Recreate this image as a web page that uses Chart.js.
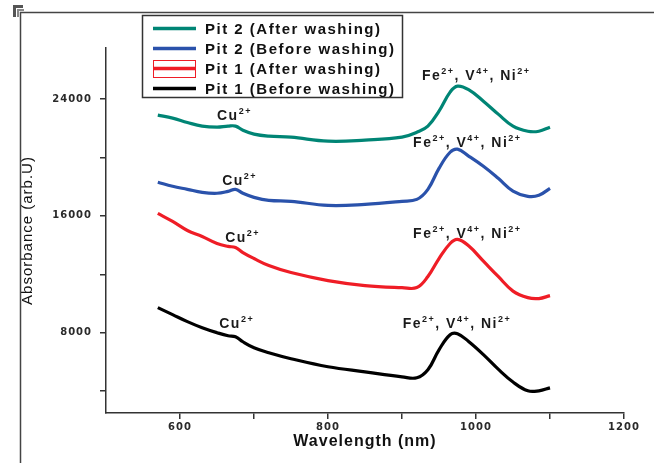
<!DOCTYPE html>
<html>
<head>
<meta charset="utf-8">
<script src="https://cdn.jsdelivr.net/npm/chart.js@4.4.0/dist/chart.umd.min.js"></script>
<style>
html, body { margin: 0; padding: 0; background: #fff; }
</style>
</head>
<body>
<canvas id="absChart" width="654" height="463"></canvas>
<script>
// wavelength in nm, absorbance in arb. units
var wavelength = [570, 590, 610, 630, 650, 665, 675, 685, 700, 720, 750, 800, 850, 900, 920, 935, 950, 965, 975, 990, 1010, 1030, 1050, 1070, 1085, 1100];
var pit2After = [22900, 22700, 22400, 22150, 22080, 22150, 22150, 21870, 21600, 21460, 21390, 21120, 21190, 21390, 21730, 22150, 23180, 24480, 24890, 24650, 23860, 22970, 22150, 21800, 21800, 22080];
var pit2Before = [18300, 18030, 17820, 17610, 17550, 17680, 17820, 17550, 17270, 17060, 17000, 16720, 16790, 17000, 17130, 17820, 19260, 20360, 20570, 20100, 19400, 18580, 17700, 17340, 17410, 17890];
var pit1After = [16170, 15620, 15000, 14590, 14110, 13910, 13840, 13490, 13080, 12600, 12120, 11570, 11230, 11090, 11090, 11850, 13080, 14110, 14390, 13950, 12900, 11850, 10850, 10400, 10340, 10540];
var pit1Before = [9720, 9240, 8760, 8340, 8000, 7790, 7730, 7380, 6970, 6630, 6220, 5670, 5320, 4980, 4910, 5460, 6830, 7860, 7930, 7400, 6500, 5500, 4620, 4020, 4020, 4220];

var seriesNames = ['Pit 2 (After washing)', 'Pit 2 (Before washing)', 'Pit 1 (After washing)', 'Pit 1 (Before washing)'];
var seriesColors = ['#008575', '#2a52ab', '#ef1d26', '#000000'];

var xTickValues = [600, 700, 800, 900, 1000, 1100, 1200];
var yTickValues = [4000, 8000, 12000, 16000, 20000, 24000];

// peak labels, anchored at (wavelength, absorbance) of the text's left baseline
var cuText = [['Cu', 0], ['2+', 1]];
var feText = [['Fe', 0], ['2+', 1], [', V', 0], ['4+', 1], [', Ni', 0], ['2+', 1]];
var ionLabels = [
    {x: 650, y: 22560, parts: cuText},
    {x: 657, y: 18090, parts: cuText},
    {x: 661, y: 14180, parts: cuText},
    {x: 653, y: 8340, parts: cuText},
    {x: 927, y: 25300, parts: feText},
    {x: 915, y: 20700, parts: feText},
    {x: 915, y: 14520, parts: feText},
    {x: 901, y: 8340, parts: feText}
];

function toPoints(vals) {
    return wavelength.map(function (w, i) { return {x: w, y: vals[i]}; });
}

var spacingPlugin = {
    id: 'spacing',
    beforeDraw: function (chart) { chart.ctx.letterSpacing = '1px'; },
    afterDraw: function (chart) { chart.ctx.letterSpacing = '0px'; }
};

var framePlugin = {
    id: 'frame',
    afterDraw: function (chart) {
        var c = chart.ctx;
        c.save();
        c.strokeStyle = '#444';
        c.lineWidth = 1.5;
        c.beginPath();
        c.moveTo(20.5, 463);
        c.lineTo(20.5, 12.5);
        c.lineTo(654, 12.5);
        c.stroke();
        // little corner mark
        c.fillStyle = '#555';
        c.fillRect(13, 5, 10, 3);
        c.fillRect(13, 5, 3, 12);
        c.fillStyle = '#888';
        c.fillRect(17, 9, 7, 2);
        c.fillRect(17, 9, 2, 8);
        c.restore();
    }
};

var labelPlugin = {
    id: 'ionLabels',
    afterDraw: function (chart) {
        var c = chart.ctx;
        var xs = chart.scales.x, ys = chart.scales.y;
        c.save();
        c.fillStyle = '#1a1a1a';
        c.textBaseline = 'alphabetic';
        c.textAlign = 'left';
        c.letterSpacing = '1.5px';
        ionLabels.forEach(function (lb) {
            var px = xs.getPixelForValue(lb.x);
            var py = ys.getPixelForValue(lb.y);
            lb.parts.forEach(function (p) {
                if (p[1]) {
                    c.font = 'bold 9px "Liberation Sans", Arial, sans-serif';
                    c.fillText(p[0], px, py - 6);
                } else {
                    c.font = 'bold 14px "Liberation Sans", Arial, sans-serif';
                    c.fillText(p[0], px, py);
                }
                px += c.measureText(p[0]).width;
            });
        });
        c.restore();
    }
};

var legendPlugin = {
    id: 'boxLegend',
    afterDraw: function (chart) {
        var c = chart.ctx;
        c.save();
        c.fillStyle = '#fff';
        c.fillRect(142, 15, 260, 82);
        c.strokeStyle = '#333';
        c.lineWidth = 1.5;
        c.strokeRect(142.5, 15.5, 260, 82);
        c.font = 'bold 15px "Liberation Sans", Arial, sans-serif';
        c.letterSpacing = '1.5px';
        c.textBaseline = 'middle';
        chart.data.datasets.forEach(function (ds, i) {
            var y = 28.5 + i * 20;
            if (i === 2) {
                c.strokeStyle = ds.borderColor;
                c.lineWidth = 1;
                c.strokeRect(153.5, 60.5, 42, 17);
            }
            c.strokeStyle = ds.borderColor;
            c.lineWidth = 3.5;
            c.beginPath();
            c.moveTo(153, y);
            c.lineTo(196, y);
            c.stroke();
            c.fillStyle = '#111';
            c.fillText(ds.label, 205, y + 1);
        });
        c.restore();
    }
};

var ctx = document.getElementById('absChart').getContext('2d');
var absChart = new Chart(ctx, {
    type: 'line',
    data: {
        datasets: seriesNames.map(function (name, i) {
            return {
                label: name,
                data: toPoints([pit2After, pit2Before, pit1After, pit1Before][i]),
                borderColor: seriesColors[i],
                borderWidth: 3.2,
                pointRadius: 0,
                tension: 0.4,
                fill: false
            };
        })
    },
    options: {
        responsive: false,
        animation: false,
        layout: { padding: { left: 20, top: 48, right: 30, bottom: 13 } },
        plugins: {
            legend: { display: false },
            tooltip: { enabled: false }
        },
        scales: {
            x: {
                type: 'linear',
                min: 500,
                max: 1200,
                afterBuildTicks: function (s) {
                    s.ticks = xTickValues.map(function (v) { return {value: v}; });
                },
                afterFit: function (s) { s.height = 37; },
                grid: { drawOnChartArea: false, drawTicks: true, tickLength: 6, color: '#333', lineWidth: 1.5 },
                border: { color: '#333', width: 1.5 },
                ticks: {
                    padding: 2,
                    color: '#2a2a2a',
                    maxRotation: 0,
                    autoSkip: false,
                    font: { family: 'DejaVu Sans', size: 10, weight: 'bold' },
                    callback: function (v) { return v % 200 === 0 ? v : ''; }
                },
                title: {
                    display: true,
                    text: 'Wavelength (nm)',
                    color: '#111',
                    padding: 0,
                    font: { family: 'Liberation Sans', size: 16, weight: 'bold', lineHeight: 1 }
                }
            },
            y: {
                min: 2500,
                max: 27500,
                afterBuildTicks: function (s) {
                    s.ticks = yTickValues.map(function (v) { return {value: v}; });
                },
                afterFit: function (s) { s.width = 86; },
                grid: { drawOnChartArea: false, drawTicks: true, tickLength: 6, color: '#333', lineWidth: 1.5 },
                border: { color: '#333', width: 1.5 },
                ticks: {
                    padding: 8,
                    color: '#2a2a2a',
                    autoSkip: false,
                    font: { family: 'DejaVu Sans', size: 10, weight: 'bold' },
                    callback: function (v) { return v % 8000 === 0 ? v : ''; }
                },
                title: {
                    display: true,
                    text: 'Absorbance (arb.U)',
                    color: '#111',
                    padding: 0,
                    font: { family: 'Liberation Sans', size: 15, lineHeight: 1 }
                }
            }
        }
    },
    plugins: [spacingPlugin, framePlugin, labelPlugin, legendPlugin]
});
</script>
</body>
</html>
